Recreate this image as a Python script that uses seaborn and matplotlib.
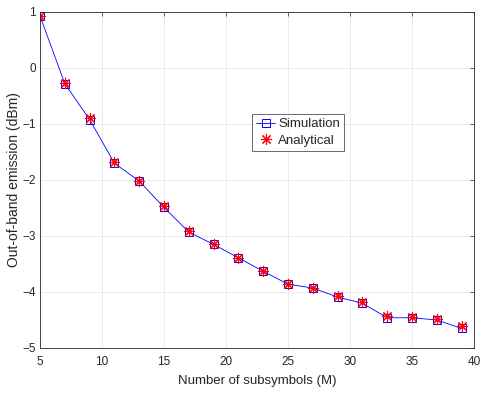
import matplotlib
matplotlib.use("Agg")
import matplotlib.pyplot as plt
import seaborn as sns
import pandas as pd

M = [5, 7, 9, 11, 13, 15, 17, 19, 21, 23, 25, 27, 29, 31, 33, 35, 37, 39]
simulation = [0.93, -0.28, -0.92, -1.70, -2.02, -2.49, -2.93, -3.15, -3.39, -3.63, -3.86,
              -3.93, -4.09, -4.20, -4.46, -4.46, -4.50, -4.65]
analytical = [0.93, -0.27, -0.89, -1.67, -2.02, -2.47, -2.91, -3.15, -3.39, -3.63, -3.86,
              -3.92, -4.08, -4.18, -4.42, -4.44, -4.49, -4.61]

sns.set_style("white")
plt.rcParams['font.family'] = ['Liberation Sans', 'DejaVu Sans']
TXT = "#262626"

df = pd.DataFrame({"M": M, "sim": simulation, "ana": analytical})

fig = plt.figure(figsize=(4.98, 3.99), dpi=100)
ax = fig.add_axes([40/498, 1 - 348/399, (474-40)/498, (348-12)/399])

sns.lineplot(data=df, x="M", y="sim", ax=ax, color="#0000ff", lw=0.6,
             marker="s", markersize=5.5, markerfacecolor="none",
             markeredgecolor="#0000ff", markeredgewidth=0.7, label="Simulation")
sns.lineplot(data=df, x="M", y="ana", ax=ax, color="#ff0000", linestyle="none",
             marker=(8, 2, 0), markersize=8, markeredgewidth=0.8,
             markeredgecolor="#ff0000", label="Analytical")

ax.set_xlim(5, 40)
ax.set_ylim(-5, 1)
ax.set_xticks(range(5, 41, 5))
ax.set_yticks(range(-5, 2))
ax.grid(True, color="#e8e8e8", lw=0.6)
for s in ax.spines.values():
    s.set_color(TXT)
    s.set_linewidth(0.6)
ax.tick_params(direction="in", length=3, width=0.5, labelsize=8.5, colors=TXT,
               top=True, right=True, labeltop=False, labelright=False)
ax.tick_params(axis="x", pad=5.5)
ax.tick_params(axis="y", pad=3)
ax.set_xlabel("Number of subsymbols (M)", fontsize=9.5, color=TXT)
ax.set_ylabel("Out-of-band emission (dBm)", fontsize=10, color=TXT)
ax.xaxis.set_label_coords(0.5, -0.080)
ax.yaxis.set_label_coords(-0.043, 0.5)

leg = ax.legend(loc="upper left", bbox_to_anchor=((252-40)/434, 1 - (114-12)/336),
                fontsize=9.5, frameon=True, fancybox=False, borderpad=0.3,
                handlelength=1.45, handletextpad=0.25, borderaxespad=0, labelspacing=0.35)
leg.get_frame().set_edgecolor(TXT)
leg.get_frame().set_linewidth(0.6)
for t in leg.get_texts():
    t.set_color(TXT)

fig.savefig("out.png", dpi=100)
